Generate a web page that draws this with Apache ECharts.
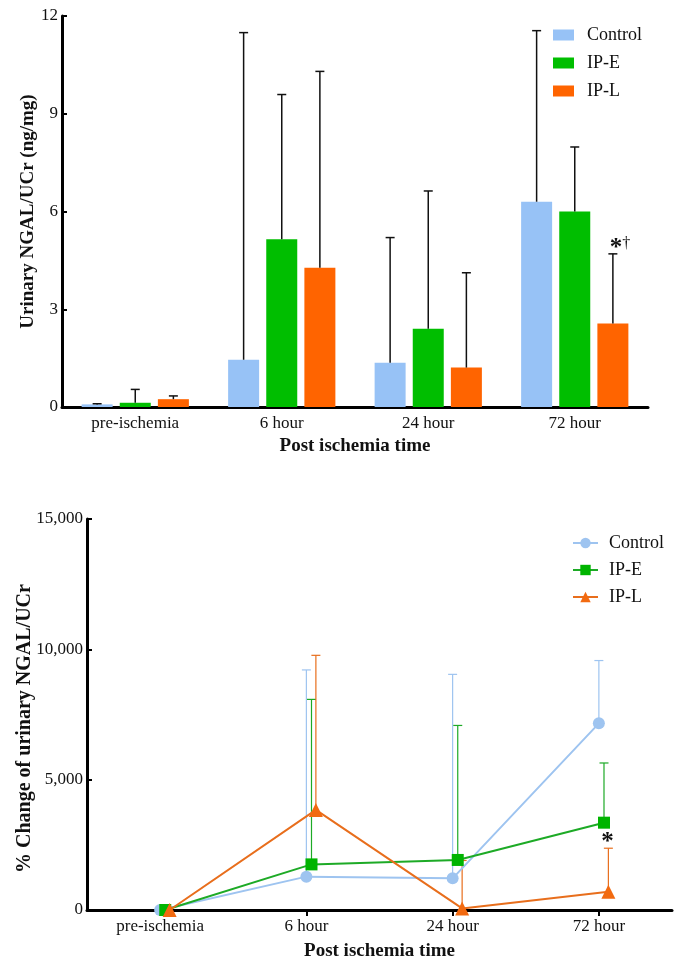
<!DOCTYPE html>
<html><head><meta charset="utf-8">
<script src="https://cdn.jsdelivr.net/npm/echarts@6/dist/echarts.min.js"></script>
<style>
html,body{margin:0;padding:0;background:#fff;}
#c1{position:absolute;left:0;top:0;width:676px;height:490px;}
#c2{position:absolute;left:0;top:490px;width:676px;height:481px;}
</style></head>
<body>
<div id="c1"></div><div id="c2"></div>
<script>
// ---------- data ----------
const categories = ['pre-ischemia', '6 hour', '24 hour', '72 hour'];
const seriesNames = ['Control', 'IP-E', 'IP-L'];
// Top chart: Urinary NGAL/UCr (ng/mg), bar means and upper error limits
const barControl = [0.08, 1.45, 1.36, 6.30];
const barIPE     = [0.13, 5.15, 2.40, 6.00];
const barIPL     = [0.24, 4.27, 1.21, 2.56];
const barControlUpper = [0.10, 11.49, 5.20, 11.55];
const barIPEUpper     = [0.54, 9.59, 6.63, 7.98];
const barIPLUpper     = [0.34, 10.30, 4.12, 4.70];
const barMarks = [['', '', '', ''], ['', '', '', ''], ['', '', '', '*†']];
const topTicks = [0, 3, 6, 9, 12];
// Bottom chart: % change of urinary NGAL/UCr, means and upper error limits
const lineControl = [0, 1280, 1215, 7160];
const lineIPE     = [0, 1750, 1920, 3350];
const lineIPL     = [0, 3840, 60, 700];
const lineControlUpper = [0, 9210, 9040, 9570];
const lineIPEUpper     = [0, 8080, 7080, 5640];
const lineIPLUpper     = [0, 9770, 1900, 2370];
const lineMarks = [['', '', '', ''], ['', '', '', ''], ['', '', '', '*']];
const bottomTicks = [0, 5000, 10000, 15000];

// ---------- style ----------
const FONT = '"Liberation Serif", "Times New Roman", serif';
const barColors = ['#97C2F6', '#00BE00', '#FF6400'];
const lineColors = ['#9EC4F0', '#1DAA26', '#E86E1C'];
const markerColors = ['#9EC4F0', '#00B400', '#F26A10'];
const symbols = ['circle', 'rect', 'triangle'];
const BAR_W = 31, BAR_GAP = 0.23, CAP_W = 9;
const LINE_OFFSET = [0, 0.035, 0.065];

// ---------- top chart ----------
const chart1 = echarts.init(document.getElementById('c1'));
const barMeans = [barControl, barIPE, barIPL];
const barUppers = [barControlUpper, barIPEUpper, barIPLUpper];

function barErrRender(k) {
  return function (params, api) {
    const cat = api.value(0), upper = api.value(1), mean = api.value(2);
    const mark = barMarks[k][params.dataIndex];
    const pb = api.coord([cat, mean]);
    const pt = api.coord([cat, upper]);
    const x = pb[0] + (k - 1) * BAR_W * (1 + BAR_GAP);
    const st = { stroke: '#111', lineWidth: 1.5 };
    const children = [
      { type: 'line', shape: { x1: x, y1: pb[1], x2: x, y2: pt[1] }, style: st },
      { type: 'line', shape: { x1: x - CAP_W / 2, y1: pt[1], x2: x + CAP_W / 2, y2: pt[1] }, style: st }
    ];
    if (mark) {
      children.push({ type: 'text', x: x + 7, y: pt[1] + 7, style: {
        text: '{a|*}{b|†}', align: 'center', verticalAlign: 'bottom',
        rich: { a: { fontSize: 25, fontWeight: 'bold', fontFamily: FONT, fill: '#111' },
                b: { fontSize: 16, fontFamily: FONT, fill: '#111', verticalAlign: 'top', padding: [0,0,4,0] } }
      }});
    }
    return { type: 'group', children };
  };
}

const topSeries = [];
seriesNames.forEach((n, k) => {
  topSeries.push({ name: n, type: 'bar', data: barMeans[k], barWidth: BAR_W, barGap: (BAR_GAP * 100) + '%',
    itemStyle: { color: barColors[k] }, z: 2 });
});
seriesNames.forEach((n, k) => {
  topSeries.push({ type: 'custom', renderItem: barErrRender(k), z: 3,
    data: categories.map((c, i) => [i, barUppers[k][i], barMeans[k][i]]) });
});

chart1.setOption({
  animation: false,
  textStyle: { fontFamily: FONT },
  grid: { left: 62, right: 28, top: 16, bottom: 83, containLabel: false },
  legend: { orient: 'vertical', left: 553, top: 26, padding: 0, itemWidth: 21, itemHeight: 11, itemGap: 10,
    data: seriesNames, icon: 'rect',
    textStyle: { fontFamily: FONT, fontSize: 18, color: '#111', padding: [0, 0, 0, 8], lineHeight: 18 } },
  xAxis: { type: 'category', data: categories,
    axisLine: { lineStyle: { color: '#000', width: 3 } }, axisTick: { show: false },
    axisLabel: { color: '#111', fontSize: 17, fontFamily: FONT, margin: 8 },
    name: 'Post ischemia time', nameLocation: 'middle', nameGap: 28,
    nameTextStyle: { fontSize: 19, fontWeight: 'bold', fontFamily: FONT, color: '#111' } },
  yAxis: { type: 'value', min: topTicks[0], max: topTicks[topTicks.length - 1], interval: topTicks[1] - topTicks[0],
    splitLine: { show: false },
    axisLine: { show: true, onZero: false, lineStyle: { color: '#000', width: 3 } },
    axisTick: { show: true, inside: true, length: 5, lineStyle: { color: '#000', width: 2 } },
    axisLabel: { color: '#111', fontSize: 17, fontFamily: FONT, margin: 4 },
    name: 'Urinary NGAL/UCr (ng/mg)', nameLocation: 'middle', nameGap: 24, nameMoveOverlap: false,
    nameTextStyle: { fontSize: 19, fontWeight: 'bold', fontFamily: FONT, color: '#111' } },
  series: topSeries
});

// ---------- bottom chart ----------
const chart2 = echarts.init(document.getElementById('c2'));
const lineMeans = [lineControl, lineIPE, lineIPL];
const lineUppers = [lineControlUpper, lineIPEUpper, lineIPLUpper];

function lineErrRender(k) {
  return function (params, api) {
    const xv = api.value(0), upper = api.value(1), mean = api.value(2);
    const mark = lineMarks[k][params.dataIndex];
    const pb = api.coord([xv, mean]);
    const pt = api.coord([xv, upper]);
    const st = { stroke: lineColors[k], lineWidth: 1.2 };
    const children = [];
    if (upper > mean) {
      children.push({ type: 'line', shape: { x1: pb[0], y1: pb[1], x2: pb[0], y2: pt[1] }, style: st });
      children.push({ type: 'line', shape: { x1: pb[0] - CAP_W / 2, y1: pt[1], x2: pb[0] + CAP_W / 2, y2: pt[1] }, style: st });
    }
    if (mark) {
      children.push({ type: 'text', x: pb[0] - 1, y: pt[1] + 7, style: {
        text: mark, align: 'center', verticalAlign: 'bottom',
        fontSize: 25, fontWeight: 'bold', fontFamily: FONT, fill: '#111' } });
    }
    return { type: 'group', children };
  };
}

const bottomSeries = [];
seriesNames.forEach((n, k) => {
  bottomSeries.push({ type: 'custom', xAxisIndex: 1, renderItem: lineErrRender(k), z: 1,
    data: categories.map((c, i) => [i + LINE_OFFSET[k], lineUppers[k][i], lineMeans[k][i]]) });
});
seriesNames.forEach((n, k) => {
  bottomSeries.push({ name: n, type: 'line', xAxisIndex: 1,
    data: categories.map((c, i) => [i + LINE_OFFSET[k], lineMeans[k][i]]),
    symbol: symbols[k], symbolSize: k === 2 ? 14 : 12,
    lineStyle: { color: lineColors[k], width: 2 },
    itemStyle: { color: markerColors[k] }, z: 3 + k });
});

chart2.setOption({
  animation: false,
  textStyle: { fontFamily: FONT },
  grid: { left: 87, right: 4, top: 29, bottom: 61, containLabel: false },
  legend: { orient: 'vertical', left: 572, top: 44, padding: 0, itemWidth: 25, itemHeight: 13, itemGap: 9,
    data: seriesNames,
    textStyle: { fontFamily: FONT, fontSize: 18, color: '#111', padding: [0, 0, 0, 6], lineHeight: 18 } },
  xAxis: [
    { type: 'category', data: categories,
      axisLine: { onZero: false, lineStyle: { color: '#000', width: 3 } },
      axisTick: { show: true, alignWithLabel: true, length: 6, lineStyle: { color: '#000', width: 2 } },
      axisLabel: { color: '#111', fontSize: 17, fontFamily: FONT, margin: 8 },
      name: 'Post ischemia time', nameLocation: 'middle', nameGap: 32,
      nameTextStyle: { fontSize: 19, fontWeight: 'bold', fontFamily: FONT, color: '#111' } },
    { type: 'value', min: -0.5, max: 3.5, show: false }
  ],
  yAxis: { type: 'value', min: bottomTicks[0], max: bottomTicks[bottomTicks.length - 1], interval: bottomTicks[1] - bottomTicks[0],
    splitLine: { show: false },
    axisLine: { show: true, onZero: false, lineStyle: { color: '#000', width: 3 } },
    axisTick: { show: true, inside: true, length: 5, lineStyle: { color: '#000', width: 2 } },
    axisLabel: { color: '#111', fontSize: 17, fontFamily: FONT, margin: 4,
      formatter: v => v.toLocaleString('en-US') },
    name: '% Change of urinary NGAL/UCr', nameLocation: 'middle', nameGap: 52, nameMoveOverlap: false,
    nameTextStyle: { fontSize: 20, fontWeight: 'bold', fontFamily: FONT, color: '#111', padding: [0, 28, 0, 0] } },
  series: bottomSeries
});
</script>
</body></html>
